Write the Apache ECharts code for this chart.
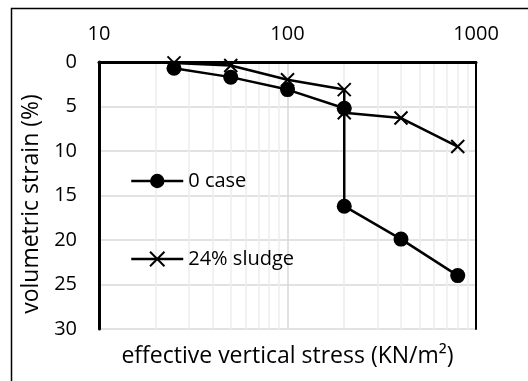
<!DOCTYPE html>
<html><head><meta charset="utf-8">
<script src="https://cdn.jsdelivr.net/npm/echarts@6/dist/echarts.min.js"></script>
<style>html,body{margin:0;padding:0;background:#fff}#c{width:528px;height:381px}</style>
</head><body><div id="c"></div>
<script>
const stress = [25, 50, 100, 200, 200, 400, 800];
const strainCase0 = [0.7, 1.7, 3.1, 5.2, 16.2, 19.9, 24.0];
const strainSludge = [0.1, 0.4, 2.0, 3.1, 5.7, 6.3, 9.5];
const minorGrid = [20, 30, 40, 50, 60, 70, 80, 90, 200, 300, 400, 500, 600, 700, 800, 900];
const seriesNames = ['0 case', '24% sludge'];

const FONT = '"Open Sans", sans-serif';
const chart = echarts.init(document.getElementById('c'), null, {renderer: 'canvas'});
const xSym = 'path://M0,0L10,10M10,0L0,10';
chart.setOption({
  animation: false,
  backgroundColor: '#fff',
  graphic: [{type: 'rect', left: 9, top: 6, shape: {width: 600, height: 500}, style: {fill: 'none', stroke: '#000', lineWidth: 1.5}, z: -1}],
  grid: {left: 99, top: 62, right: 52, bottom: 52},
  legend: {
    orient: 'vertical', left: 125, top: 166, itemGap: 58, itemWidth: 52, itemHeight: 18,
    textStyle: {fontFamily: FONT, fontSize: 20, color: '#000'},
    itemStyle: {color: '#000'},
    lineStyle: {color: '#000', width: 2.5},
    data: seriesNames
  },
  xAxis: [{
    type: 'log', logBase: 10, min: 10, max: 1000, position: 'top',
    axisLine: {lineStyle: {color: '#a6a6a6', width: 2}},
    axisTick: {show: false},
    axisLabel: {fontFamily: FONT, fontSize: 20, color: '#000', margin: 18, formatter: v => String(v)},
    splitLine: {show: true, lineStyle: {color: '#d9d9d9', width: 1.5}}
  }, {
    type: 'log', logBase: 10, min: 10, max: 1000, position: 'bottom',
    axisLine: {lineStyle: {color: '#000', width: 3}},
    axisTick: {show: false}, axisLabel: {show: false}, splitLine: {show: false},
    name: 'effective vertical stress (KN/m²)', nameLocation: 'middle', nameGap: 16,
    nameTextStyle: {fontFamily: FONT, fontSize: 23, color: '#000'}
  }],
  yAxis: [{
    type: 'value', inverse: true, min: 0, max: 30, interval: 5, position: 'left',
    axisLine: {lineStyle: {color: '#000', width: 3}},
    axisTick: {show: false},
    axisLabel: {fontFamily: FONT, fontSize: 20, color: '#000', margin: 22},
    splitLine: {lineStyle: {color: '#d9d9d9', width: 1.5}},
    name: 'volumetric strain (%)', nameLocation: 'middle', nameGap: 47,
    nameTextStyle: {fontFamily: FONT, fontSize: 23, color: '#000', padding: [0, 17, 0, 0]}
  }, {
    type: 'value', inverse: true, min: 0, max: 30, interval: 5, position: 'right',
    axisLine: {show: true, lineStyle: {color: '#000', width: 2}},
    axisTick: {show: false}, axisLabel: {show: false}, splitLine: {show: false}
  }],
  series: [{
    type: 'line', name: 'grid-minor', xAxisIndex: 0, yAxisIndex: 0, data: [], silent: true, z: 0,
    markLine: {symbol: 'none', silent: true, label: {show: false}, z: 0,
      lineStyle: {color: '#ececec', width: 1.5, type: 'solid'},
      data: minorGrid.map(v => ({xAxis: v}))}
  }, {
    type: 'line', name: seriesNames[0], data: stress.map((x, i) => [x, strainCase0[i]]),
    symbol: 'circle', symbolSize: 15, clip: false,
    lineStyle: {color: '#000', width: 2.5}, itemStyle: {color: '#000'}, z: 4
  }, {
    type: 'line', name: seriesNames[1], data: stress.map((x, i) => [x, strainSludge[i]]),
    symbol: xSym, symbolSize: 13, clip: false,
    lineStyle: {color: '#000', width: 2.5},
    itemStyle: {color: 'none', borderColor: '#000', borderWidth: 2}, z: 3
  }]
});
</script></body></html>
